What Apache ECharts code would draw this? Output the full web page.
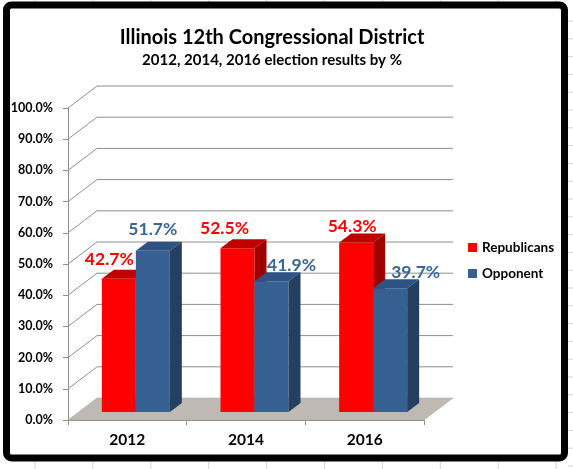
<!DOCTYPE html>
<html>
<head>
<meta charset="utf-8">
<script src="https://cdn.jsdelivr.net/npm/echarts@6/dist/echarts.min.js"></script>
<style>
html,body{margin:0;padding:0;background:#fff;}
#chart{width:573px;height:469px;}
</style>
</head>
<body>
<div id="chart"></div>
<script>
// ---- data ----
const categories = ['2012', '2014', '2016'];
const seriesNames = ['Republicans', 'Opponent'];
const republicans = [42.7, 52.5, 54.3];
const opponent = [51.7, 41.9, 39.7];
const yTicks = [0, 10, 20, 30, 40, 50, 60, 70, 80, 90, 100];

// ---- style / layout (not data) ----
const FONT = 'Lato, "Open Sans", sans-serif';
const BW = 34;          // bar width (px)
const SHIFT = 8.5;      // pair offset from category centre due to depth
const BASE_DY = 8;      // bar base above front floor edge
const BDX = 12, BDY = 9; // bar depth projection
const WDX = 29, WDY = 22; // wall depth projection
const colors = [
  {front: '#FF0000', top: '#C00000', side: '#A00000', label: '#FF0000'},
  {front: '#376092', top: '#2E5283', side: '#243F60', label: '#3A6797'}
];
const labelNudge = [
  [[-9.5, -19], [-13, -20], [-4, -16]],
  [[0, -21], [20, -16], [25.5, -16]]
];

function wallRender(params, api) {
  const cs = params.coordSys;
  const t = api.value(0);
  const y = api.coord([0, t])[1];
  const left = cs.x, right = cs.x + cs.width;
  const lineStyle = {stroke: '#8E8E8E', lineWidth: 1};
  const children = [];
  if (t === 0) {
    children.push({
      type: 'polygon',
      shape: {points: [[left, y], [right, y], [right + WDX, y - WDY], [left + WDX, y - WDY]]},
      style: {fill: '#BEBAB3', stroke: '#A9A59E', lineWidth: 0.5}
    });
  } else {
    children.push({type: 'line', shape: {x1: left, y1: y, x2: left + WDX, y2: y - WDY}, style: lineStyle});
    children.push({type: 'line', shape: {x1: left + WDX, y1: y - WDY, x2: right + WDX, y2: y - WDY}, style: lineStyle});
  }
  return {type: 'group', children: children};
}

function barRender(s) {
  return function (params, api) {
    const i = api.value(0), v = api.value(1);
    const c0 = api.coord([i, 0]);
    const c1 = api.coord([i, v]);
    const x = c0[0] + SHIFT + (s === 0 ? -BW : 0);
    const yb = c0[1] - BASE_DY;
    const yt = c1[1] - BASE_DY;
    const col = colors[s];
    const nudge = labelNudge[s][i];
    return {
      type: 'group',
      children: [
        {type: 'rect', shape: {x: x, y: yt, width: BW, height: yb - yt}, style: {fill: col.front}},
        {type: 'polygon', shape: {points: [[x, yt], [x + BW, yt], [x + BW + BDX, yt - BDY], [x + BDX, yt - BDY]]}, style: {fill: col.top}},
        {type: 'polygon', shape: {points: [[x + BW, yt], [x + BW + BDX, yt - BDY], [x + BW + BDX, yb - BDY], [x + BW, yb]]}, style: {fill: col.side}},
        {type: 'text', z2: 100, style: {
          text: v.toFixed(1) + '%', x: x + BW / 2 + nudge[0], y: yt + nudge[1],
          align: 'center', verticalAlign: 'middle',
          font: 'bold 17.5px ' + FONT, fill: col.label
        }}
      ]
    };
  };
}

// spreadsheet-style background lines outside the chart frame
const bg = [];
for (let k = 0; k < 10; k++) {
  const x = 35 + 57.9 * k;
  bg.push({type: 'line', shape: {x1: x, y1: 0, x2: x, y2: 3}, style: {stroke: '#D4D4D4', lineWidth: 1}});
  bg.push({type: 'line', shape: {x1: x, y1: 461, x2: x, y2: 469}, style: {stroke: '#D4D4D4', lineWidth: 1}});
}
for (let k = 0; k < 26; k++) {
  const y = 21 + 17.8 * k;
  bg.push({type: 'line', shape: {x1: 568, y1: y, x2: 573, y2: y}, style: {stroke: '#D4D4D4', lineWidth: 1}});
}

const chart = echarts.init(document.getElementById('chart'), null, {renderer: 'canvas'});
chart.setOption({
  animation: false,
  backgroundColor: '#fff',
  grid: {left: 68, right: 149, top: 108, bottom: 49, containLabel: false},
  xAxis: {
    type: 'category', data: categories, boundaryGap: true,
    axisLine: {lineStyle: {color: '#8E8E8E'}},
    axisTick: {show: true, length: 5, lineStyle: {color: '#8E8E8E'}},
    axisLabel: {color: '#000', fontWeight: 'bold', fontSize: 15.5, fontFamily: FONT, margin: 12}
  },
  yAxis: {
    type: 'value', min: 0, max: 100, interval: 10,
    axisLine: {show: true, lineStyle: {color: '#8E8E8E'}},
    axisTick: {show: true, length: 5, lineStyle: {color: '#8E8E8E'}},
    splitLine: {show: false},
    axisLabel: {color: '#000', fontWeight: 'bold', fontSize: 12.5, fontFamily: FONT, margin: 15,
      formatter: v => v.toFixed(1) + '%'}
  },
  legend: {
    orient: 'vertical', left: 468, top: 239.5, padding: 0,
    icon: 'rect', itemWidth: 9, itemHeight: 9, itemGap: 10,
    data: seriesNames,
    textStyle: {color: '#000', fontWeight: 'bold', fontSize: 13.5, fontFamily: FONT, lineHeight: 16}
  },
  graphic: bg.concat([
    {type: 'rect', shape: {x: 6.5, y: 5, width: 558, height: 453, r: 5},
      style: {fill: 'none', stroke: '#000', lineWidth: 7}, z: 10},
    {type: 'text', x: 272, y: 38, style: {text: 'Illinois 12th Congressional District',
      align: 'center', verticalAlign: 'middle', font: 'bold 20px ' + FONT, fill: '#000'}},
    {type: 'text', x: 272, y: 60, style: {text: '2012, 2014, 2016 election results by %',
      align: 'center', verticalAlign: 'middle', font: 'bold 15px ' + FONT, fill: '#000'}}
  ]),
  series: [
    {type: 'custom', name: 'walls', renderItem: wallRender, data: yTicks.map(t => [t]),
      encode: {y: 0}, z: 1, silent: true},
    {type: 'custom', name: seriesNames[0], renderItem: barRender(0),
      itemStyle: {color: colors[0].front},
      data: republicans.map((v, i) => [i, v]), encode: {x: 0, y: 1}, z: 3},
    {type: 'custom', name: seriesNames[1], renderItem: barRender(1),
      itemStyle: {color: colors[1].front},
      data: opponent.map((v, i) => [i, v]), encode: {x: 0, y: 1}, z: 3}
  ]
});
</script>
</body>
</html>
